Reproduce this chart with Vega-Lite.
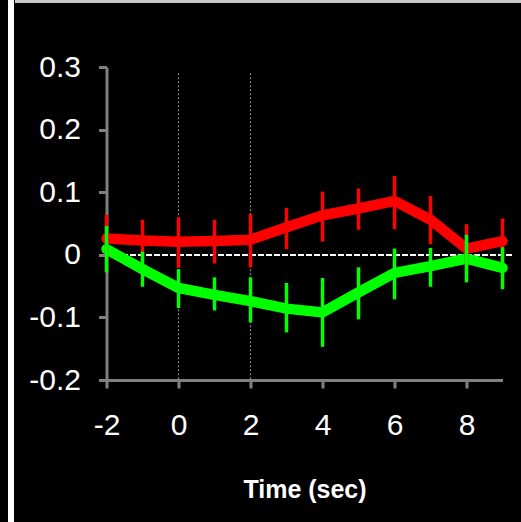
{
  "$schema": "https://vega.github.io/schema/vega-lite/v6.json",
  "background": "black",
  "padding": {"left": 8, "top": 0, "right": 0, "bottom": 0},
  "spacing": 1,
  "config": {
    "view": {"stroke": null},
    "axis": {
      "domainColor": "#808080",
      "domainWidth": 3,
      "tickColor": "#808080",
      "tickWidth": 3,
      "tickSize": 8,
      "labelColor": "white",
      "labelFont": "Liberation Sans",
      "labelFontSize": 30,
      "labelFlush": false,
      "grid": false,
      "titleColor": "white"
    }
  },
  "hconcat": [
    {
      "width": 6,
      "height": 522,
      "data": {"values": []},
      "mark": "rect",
      "encoding": {},
      "view": {"fill": "white", "stroke": null}
    },
    {
      "center": true,
      "spacing": 49,
      "vconcat": [
        {
          "width": 600,
          "height": 3,
          "data": {"values": []},
          "mark": "rect",
          "encoding": {},
          "view": {"fill": "#c8c8c8", "stroke": null}
        },
        {
          "width": 396,
          "height": 313,
          "data": {
            "values": [
              {"t": -2, "cond": "red", "mean": 0.026, "lo": -0.011, "hi": 0.064},
              {"t": -1, "cond": "red", "mean": 0.023, "lo": -0.011, "hi": 0.056},
              {"t": 0, "cond": "red", "mean": 0.021, "lo": -0.021, "hi": 0.060},
              {"t": 1, "cond": "red", "mean": 0.022, "lo": -0.014, "hi": 0.056},
              {"t": 2, "cond": "red", "mean": 0.024, "lo": -0.020, "hi": 0.065},
              {"t": 3, "cond": "red", "mean": 0.044, "lo": 0.009, "hi": 0.075},
              {"t": 4, "cond": "red", "mean": 0.063, "lo": 0.021, "hi": 0.101},
              {"t": 5, "cond": "red", "mean": 0.074, "lo": 0.040, "hi": 0.106},
              {"t": 6, "cond": "red", "mean": 0.086, "lo": 0.041, "hi": 0.126},
              {"t": 7, "cond": "red", "mean": 0.056, "lo": 0.017, "hi": 0.094},
              {"t": 8, "cond": "red", "mean": 0.010, "lo": -0.032, "hi": 0.049},
              {"t": 9, "cond": "red", "mean": 0.022, "lo": -0.013, "hi": 0.058},
              {"t": -2, "cond": "green", "mean": 0.009, "lo": -0.028, "hi": 0.046},
              {"t": -1, "cond": "green", "mean": -0.023, "lo": -0.051, "hi": 0.005},
              {"t": 0, "cond": "green", "mean": -0.053, "lo": -0.085, "hi": -0.023},
              {"t": 1, "cond": "green", "mean": -0.064, "lo": -0.089, "hi": -0.036},
              {"t": 2, "cond": "green", "mean": -0.074, "lo": -0.108, "hi": -0.036},
              {"t": 3, "cond": "green", "mean": -0.086, "lo": -0.124, "hi": -0.045},
              {"t": 4, "cond": "green", "mean": -0.092, "lo": -0.147, "hi": -0.037},
              {"t": 5, "cond": "green", "mean": -0.060, "lo": -0.103, "hi": -0.020},
              {"t": 6, "cond": "green", "mean": -0.029, "lo": -0.071, "hi": 0.010},
              {"t": 7, "cond": "green", "mean": -0.018, "lo": -0.051, "hi": 0.011},
              {"t": 8, "cond": "green", "mean": -0.006, "lo": -0.044, "hi": 0.032},
              {"t": 9, "cond": "green", "mean": -0.021, "lo": -0.055, "hi": 0.012}
            ]
          },
          "layer": [
            {
              "data": {"values": [{"t": 0}, {"t": 2}]},
              "mark": {"type": "rule", "color": "#8a8a8a", "strokeWidth": 1.2, "strokeDash": [2, 2]},
              "encoding": {
                "x": {
                  "field": "t",
                  "type": "quantitative",
                  "scale": {"domain": [-2, 9], "nice": false, "zero": false},
                  "axis": {
                    "values": [-2, 0, 2, 4, 6, 8],
                    "labelExpr": "(datum.value < 0 ? '-' : '') + abs(datum.value)",
                    "labelPadding": 22,
                    "title": "Time (sec)",
                    "titleFont": "Liberation Sans",
                    "titleFontWeight": "bold",
                    "titleFontSize": 25,
                    "titlePadding": 37
                  }
                },
                "y": {
                  "datum": 0.29,
                  "type": "quantitative",
                  "scale": {"domain": [-0.2, 0.3], "nice": false, "zero": false},
                  "axis": {
                    "values": [-0.2, -0.1, 0, 0.1, 0.2, 0.3],
                    "labelExpr": "datum.value == 0 ? '0' : (datum.value < 0 ? '-' : '') + format(abs(datum.value), '.1f')",
                    "labelPadding": 18,
                    "title": null
                  }
                },
                "y2": {"datum": -0.2}
              }
            },
            {
              "mark": {"type": "rule", "color": "white", "strokeWidth": 1.2, "strokeDash": [5, 3]},
              "encoding": {
                "x": {"datum": -2, "type": "quantitative"},
                "x2": {"datum": 9.25},
                "y": {"datum": 0, "type": "quantitative"}
              }
            },
            {
              "mark": {"type": "line", "strokeWidth": 10.5, "strokeCap": "round"},
              "encoding": {
                "x": {"field": "t", "type": "quantitative"},
                "y": {"field": "mean", "type": "quantitative"},
                "color": {
                  "field": "cond",
                  "type": "nominal",
                  "scale": {"domain": ["red", "green"], "range": ["#ff0000", "#00ff00"]},
                  "legend": null
                },
                "order": {"field": "t", "type": "quantitative"}
              }
            },
            {
              "mark": {"type": "rule", "strokeWidth": 3.5},
              "encoding": {
                "x": {"field": "t", "type": "quantitative"},
                "y": {"field": "lo", "type": "quantitative"},
                "y2": {"field": "hi"},
                "color": {"field": "cond", "type": "nominal", "legend": null}
              }
            }
          ]
        }
      ]
    }
  ]
}
